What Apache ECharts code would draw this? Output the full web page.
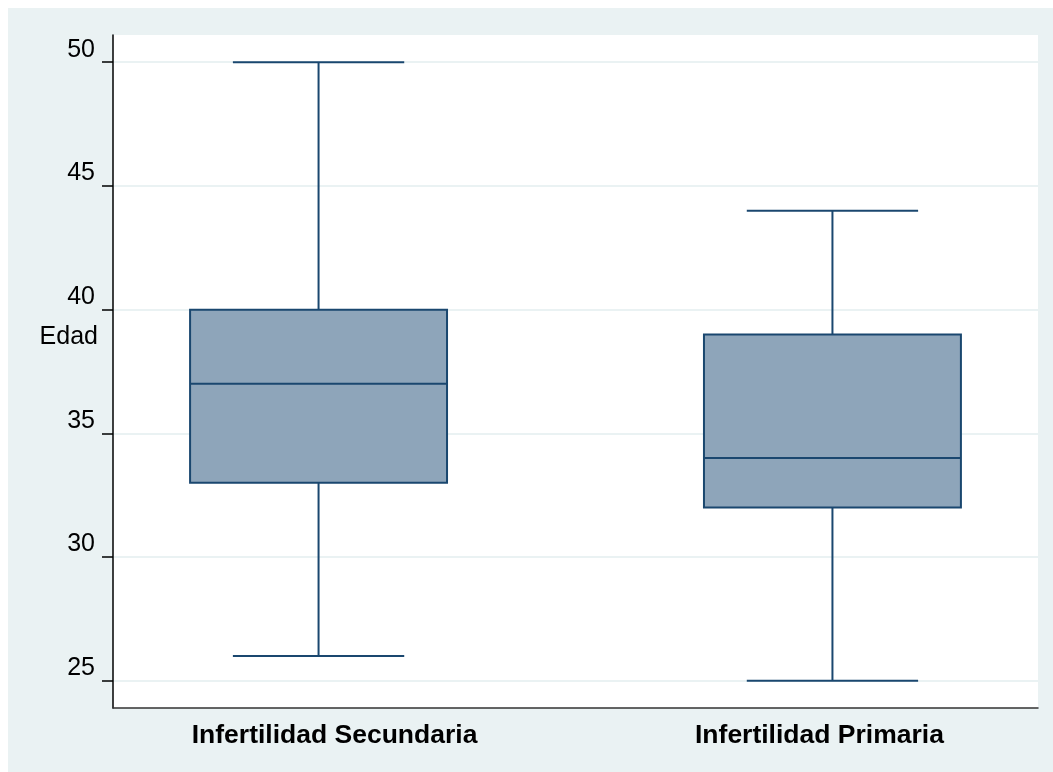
<!DOCTYPE html>
<html>
<head>
<meta charset="utf-8">
<script src="https://cdn.jsdelivr.net/npm/echarts@6/dist/echarts.min.js"></script>
<style>
  html, body { margin: 0; padding: 0; background: #ffffff; }
  #bg { position: absolute; left: 8px; top: 8px; width: 1045px; height: 764px; background: #EAF2F3; }
  #chart { position: absolute; left: 0; top: 0; width: 1053px; height: 772px; }
</style>
</head>
<body>
<div id="bg"></div>
<div id="chart"></div>
<script>
// ---- data ----
const categories = ['Infertilidad Secundaria', 'Infertilidad Primaria'];
const minVals    = [26, 25];
const q1Vals     = [33, 32];
const medianVals = [37, 34];
const q3Vals     = [40, 39];
const maxVals    = [50, 44];
const yTicks     = [25, 30, 35, 40, 45, 50];
const yTitle     = 'Edad';

// ---- layout (not data) ----
const SLOT_COUNT = 10;
const slotOf = [2, 7];
const FONT = "'Liberation Sans', Arial, Helvetica, sans-serif";
const NAVY = '#1A476F';

const axisCats = [];
for (let i = 0; i < SLOT_COUNT; i++) axisCats.push('');
categories.forEach((c, i) => { axisCats[slotOf[i]] = c; });

const boxData = categories.map((c, i) => [slotOf[i], minVals[i], q1Vals[i], medianVals[i], q3Vals[i], maxVals[i]]);

const chart = echarts.init(document.getElementById('chart'), null, { renderer: 'canvas' });

function renderBox(params, api) {
  const x = api.value(0);
  const band = api.size([1, 0])[0];
  const bw = band * 2.5;
  const cw = band * 1.667;
  const pMin = api.coord([x, api.value(1)]);
  const pQ1 = api.coord([x, api.value(2)]);
  const pMed = api.coord([x, api.value(3)]);
  const pQ3 = api.coord([x, api.value(4)]);
  const pMax = api.coord([x, api.value(5)]);
  const cx = pMed[0];
  const lineStyle = { stroke: NAVY, lineWidth: 2, fill: null };
  return {
    type: 'group',
    children: [
      { type: 'line', shape: { x1: cx, y1: pQ3[1], x2: cx, y2: pMax[1] }, style: lineStyle },
      { type: 'line', shape: { x1: cx, y1: pQ1[1], x2: cx, y2: pMin[1] }, style: lineStyle },
      { type: 'line', shape: { x1: cx - cw / 2, y1: pMax[1], x2: cx + cw / 2, y2: pMax[1] }, style: lineStyle },
      { type: 'line', shape: { x1: cx - cw / 2, y1: pMin[1], x2: cx + cw / 2, y2: pMin[1] }, style: lineStyle },
      { type: 'rect', shape: { x: cx - bw / 2, y: pQ3[1], width: bw, height: pQ1[1] - pQ3[1] },
        style: { fill: '#8EA5BA', stroke: NAVY, lineWidth: 2 } },
      { type: 'line', shape: { x1: cx - bw / 2, y1: pMed[1], x2: cx + bw / 2, y2: pMed[1] }, style: lineStyle }
    ]
  };
}

chart.setOption({
  animation: false,
  backgroundColor: 'transparent',
  grid: { left: 113, top: 35, right: 15, bottom: 64, show: true, backgroundColor: '#ffffff', borderWidth: 0 },
  xAxis: {
    type: 'category',
    data: axisCats,
    boundaryGap: false,
    axisLine: { show: true, lineStyle: { color: '#333333', width: 1.5 } },
    axisTick: { show: false },
    splitLine: { show: false },
    axisLabel: {
      interval: 0,
      margin: 14,
      fontFamily: FONT,
      fontSize: 26.5,
      fontWeight: 'bold',
      color: '#000000',
      formatter: function (v) {
        if (v === categories[0]) return '{r|' + v + '}';
        if (v === categories[1]) return '{l|' + v + '}';
        return '';
      },
      rich: {
        r: { fontFamily: FONT, fontSize: 26.5, fontWeight: 'bold', color: '#000', padding: [0, 0, 0, 32] },
        l: { fontFamily: FONT, fontSize: 26.5, fontWeight: 'bold', color: '#000', padding: [0, 26, 0, 0] }
      }
    }
  },
  yAxis: {
    type: 'value',
    min: 23.9,
    max: 51.1,
    name: yTitle,
    nameLocation: 'middle',
    nameRotate: 0,
    nameGap: 15,
    nameMoveOverlap: false,
    nameTextStyle: { fontFamily: FONT, fontSize: 25, color: '#000', align: 'right', verticalAlign: 'bottom', padding: [0, 0, 22, 0] },
    axisLine: { show: true, lineStyle: { color: '#000000', width: 1.5 } },
    axisTick: { show: true, length: 11, lineStyle: { color: '#000000', width: 1.5 }, customValues: yTicks },
    axisLabel: {
      customValues: yTicks,
      margin: 18,
      fontFamily: FONT,
      fontSize: 25,
      color: '#000000',
      verticalAlign: 'bottom'
    },
    splitLine: { show: true, lineStyle: { color: '#EAF2F3', width: 2 } }
  },
  series: [{
    type: 'custom',
    renderItem: renderBox,
    encode: { x: 0, y: [1, 2, 3, 4, 5] },
    data: boxData,
    clip: false
  }]
});
</script>
</body>
</html>
